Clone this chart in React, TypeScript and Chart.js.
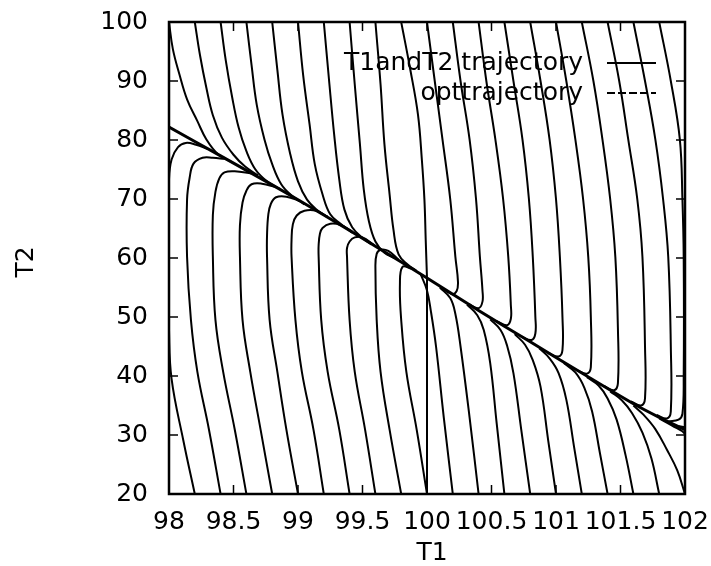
import React, { useEffect, useRef } from "react";
import { Chart, registerables } from "chart.js";

Chart.register(...registerables);

const FONT = "'DejaVu Sans', 'Liberation Sans', sans-serif";

const xTicks = [98, 98.5, 99, 99.5, 100, 100.5, 101, 101.5, 102];
const yTicks = [20, 30, 40, 50, 60, 70, 80, 90, 100];
const xTitle = "T1";
const yTitle = "T2";
const legendLabels = ["T1andT2 trajectory", "opttrajectory"];

// optimal trajectory (the slow line everything converges onto)
const optT1 = [98.0, 98.4, 98.8, 99.2, 99.6, 100.0, 100.4, 100.8, 101.2, 101.6, 101.8, 102.0];
const optT2 = [82.2, 77.3, 72.4, 67.3, 62.0, 56.6, 51.1, 45.8, 40.5, 35.3, 33.0, 30.9];

// trajectories starting on the top edge, left half
const upperLeftCurves = [
  [[98.0, 100], [98.03, 95.4], [98.08, 91.2], [98.14, 86.9], [98.22, 83.2], [98.29, 80.1], [98.38, 77.6], [98.49, 76.2]],
  [[98.2, 100], [98.24, 94.4], [98.29, 88.8], [98.34, 84.2], [98.41, 80.4], [98.5, 77.5], [98.59, 75.5], [98.69, 74.0]],
  [[98.4, 100], [98.44, 93.5], [98.49, 87.2], [98.54, 82.1], [98.6, 78.1], [98.67, 75.0], [98.76, 73.0], [98.86, 71.7]],
  [[98.6, 100], [98.64, 92.7], [98.68, 86.0], [98.74, 80.1], [98.8, 75.9], [98.87, 72.5], [98.95, 70.6], [99.05, 69.1]],
  [[98.8, 100], [98.84, 91.9], [98.88, 84.3], [98.94, 77.6], [99.0, 73.0], [99.07, 69.9], [99.15, 68.1], [99.23, 66.9]],
  [[99.0, 100], [99.04, 91.0], [99.09, 82.6], [99.13, 75.9], [99.19, 70.8], [99.25, 67.4], [99.33, 65.8], [99.42, 64.3]],
  [[99.2, 100], [99.24, 90.3], [99.28, 81.0], [99.32, 73.3], [99.36, 68.2], [99.42, 65.2], [99.5, 63.4], [99.57, 62.3]],
  [[99.4, 100], [99.44, 89.4], [99.48, 79.3], [99.51, 71.6], [99.55, 66.2], [99.6, 62.8], [99.67, 60.9], [99.75, 60.0]],
  [[99.6, 100], [99.64, 89.4], [99.67, 79.3], [99.71, 70.8], [99.74, 64.8], [99.78, 60.6], [99.85, 58.9], [99.92, 57.8]],
  [[99.8, 100], [99.87, 92.0], [99.93, 84.3], [99.96, 76.7], [99.98, 69.9], [99.99, 63.1], [100.0, 56.6]],
];

// trajectories starting on the bottom edge, left half
const lowerLeftCurves = [
  [[98.2, 20], [98.11, 29.2], [98.02, 39.5], [98.0, 47.8], [97.99, 61.4], [98.0, 73.3], [98.02, 76.7], [98.07, 78.8], [98.13, 79.5], [98.21, 79.2], [98.3, 78.5]],
  [[98.4, 20], [98.31, 30.9], [98.22, 40.7], [98.17, 49.5], [98.14, 60.2], [98.14, 69.9], [98.16, 73.6], [98.19, 76.0], [98.26, 77.0], [98.34, 77.0], [98.43, 76.8]],
  [[98.6, 20], [98.51, 30.9], [98.42, 40.7], [98.36, 49.5], [98.34, 60.2], [98.34, 67.3], [98.36, 71.2], [98.39, 73.5], [98.43, 74.5], [98.51, 74.7], [98.64, 74.3]],
  [[98.8, 20], [98.71, 30.9], [98.63, 40.7], [98.57, 49.5], [98.55, 60.2], [98.55, 65.6], [98.57, 69.4], [98.6, 71.4], [98.64, 72.5], [98.72, 72.6], [98.83, 72.0]],
  [[99.0, 20], [98.91, 30.9], [98.84, 40.7], [98.78, 49.5], [98.76, 60.2], [98.76, 63.9], [98.77, 67.4], [98.79, 69.2], [98.83, 70.3], [98.91, 70.4], [99.02, 69.6]],
  [[99.2, 20], [99.12, 30.9], [99.03, 40.7], [98.98, 49.5], [98.95, 60.2], [98.95, 63.1], [98.96, 65.7], [98.99, 67.2], [99.05, 68.0], [99.14, 68.0], [99.23, 67.0]],
  [[99.4, 20], [99.32, 30.9], [99.23, 40.7], [99.18, 49.5], [99.16, 60.2], [99.16, 62.2], [99.17, 64.1], [99.19, 65.1], [99.25, 65.8], [99.33, 65.6], [99.42, 64.5]],
  [[99.6, 20], [99.52, 30.9], [99.44, 40.7], [99.4, 49.5], [99.38, 60.2], [99.38, 61.7], [99.4, 62.8], [99.44, 63.5], [99.5, 63.5], [99.59, 62.2]],
  [[99.8, 20], [99.71, 30.9], [99.64, 40.7], [99.61, 49.5], [99.6, 58.5], [99.61, 60.7], [99.64, 61.4], [99.7, 61.2], [99.78, 59.7]],
  [[100.0, 20], [99.92, 30.9], [99.84, 40.7], [99.8, 49.5], [99.79, 55.5], [99.81, 58.5], [99.88, 58.2]],
  [[100.0, 20], [100.0, 40], [100.0, 56.6]],
];

// trajectories starting on the top edge, right half
const upperRightCurves = [
  [[100.0, 100], [100.06, 90], [100.12, 80.1], [100.18, 70], [100.22, 60.2], [100.24, 56.0], [100.23, 54.4], [100.19, 53.9], [100.1, 55.2]],
  [[100.2, 100], [100.26, 90], [100.33, 80.1], [100.38, 70], [100.41, 60.2], [100.43, 54.5], [100.43, 52.6], [100.4, 51.5], [100.32, 52.2]],
  [[100.4, 100], [100.46, 90], [100.53, 80.1], [100.59, 70], [100.63, 60.2], [100.65, 52], [100.65, 49.7], [100.62, 48.6], [100.54, 49.3]],
  [[100.6, 100], [100.67, 90], [100.74, 80.1], [100.79, 70], [100.82, 60.2], [100.84, 50], [100.84, 47.2], [100.81, 46.1], [100.73, 46.7]],
  [[100.8, 100], [100.88, 90], [100.95, 80.1], [101.0, 70], [101.03, 60.2], [101.05, 50], [101.05, 44.4], [101.02, 43.3], [100.94, 43.9]],
  [[101.0, 100], [101.08, 90], [101.15, 80.1], [101.21, 70], [101.25, 60.2], [101.27, 50], [101.27, 41.5], [101.24, 40.4], [101.16, 41.0]],
  [[101.2, 100], [101.29, 90], [101.36, 80.1], [101.42, 70], [101.46, 60.2], [101.48, 48], [101.48, 38.8], [101.45, 37.6], [101.37, 38.3]],
  [[101.4, 100], [101.49, 90], [101.56, 80.1], [101.63, 70], [101.67, 60.2], [101.69, 45], [101.69, 36.2], [101.66, 35.0], [101.58, 35.7]],
  [[101.6, 100], [101.69, 90], [101.77, 80.1], [101.83, 70], [101.87, 60.2], [101.89, 45], [101.89, 34.0], [101.86, 32.8], [101.78, 33.4]],
  [[101.8, 100], [101.89, 90], [101.96, 80.1], [101.98, 70], [101.99, 60], [101.99, 40], [101.98, 33.6], [101.95, 32.6], [101.87, 32.3]],
  [[102.0, 100], [102.09, 90], [102.16, 80.1], [102.2, 60], [102.2, 40], [102.15, 33], [102.05, 31.3], [101.95, 31.5]],
];

// trajectories starting on the bottom edge, right half
const lowerRightCurves = [
  [[100.2, 20], [100.13, 33], [100.07, 45], [100.03, 51], [100.0, 54.5], [99.95, 57.3]],
  [[100.4, 20], [100.33, 33], [100.26, 45.0], [100.22, 50.5], [100.18, 53.2], [100.1, 55.0]],
  [[100.6, 20], [100.54, 32], [100.49, 42.2], [100.44, 47.8], [100.39, 50.3], [100.31, 52.1]],
  [[100.8, 20], [100.73, 31], [100.67, 40.5], [100.62, 45.2], [100.57, 47.8], [100.49, 49.6]],
  [[101.0, 20], [100.94, 29], [100.88, 38.2], [100.82, 42.7], [100.76, 45.3], [100.68, 47.1]],
  [[101.2, 20], [101.14, 28], [101.08, 36], [101.02, 40.5], [100.95, 43.0], [100.87, 44.7]],
  [[101.4, 20], [101.34, 27], [101.28, 34], [101.22, 38], [101.15, 40.6], [101.06, 42.2]],
  [[101.6, 20], [101.54, 26.5], [101.47, 32.6], [101.4, 36.2], [101.33, 38.4], [101.24, 39.8]],
  [[101.8, 20], [101.74, 26], [101.67, 30.4], [101.59, 33.7], [101.51, 35.9], [101.42, 37.4]],
  [[102.0, 20], [101.94, 24], [101.86, 27.5], [101.77, 31.0], [101.68, 33.4], [101.6, 35.0]],
  [[102.2, 20], [102.1, 26], [102.0, 30.2], [101.9, 31.6], [101.8, 32.8]],
];

const decorPlugin = {
  id: "gnuplotDecor",
  afterDatasetsDraw(chart: any) {
    const { ctx, chartArea: a, scales } = chart;
    const xs = scales.x;
    const ys = scales.y;
    ctx.save();
    ctx.strokeStyle = "#000";
    ctx.fillStyle = "#000";
    ctx.lineWidth = 1.5;
    ctx.beginPath();
    xTicks.forEach((v) => {
      const p = xs.getPixelForValue(v);
      ctx.moveTo(p, a.bottom);
      ctx.lineTo(p, a.bottom - 9);
      ctx.moveTo(p, a.top);
      ctx.lineTo(p, a.top + 9);
    });
    yTicks.forEach((v) => {
      const p = ys.getPixelForValue(v);
      ctx.moveTo(a.left, p);
      ctx.lineTo(a.left + 9, p);
      ctx.moveTo(a.right, p);
      ctx.lineTo(a.right - 9, p);
    });
    ctx.stroke();
    ctx.lineWidth = 2.5;
    ctx.strokeRect(a.left, a.top, a.right - a.left, a.bottom - a.top);

    // legend
    ctx.font = `25px ${FONT}`;
    ctx.textAlign = "right";
    ctx.textBaseline = "middle";
    const rows = [a.top + 41, a.top + 71];
    legendLabels.forEach((t, i) => {
      ctx.fillText(t, a.right - 102, rows[i]);
      ctx.setLineDash(i === 0 ? [] : [8, 3]);
      ctx.lineWidth = 2;
      ctx.beginPath();
      ctx.moveTo(a.right - 78, rows[i]);
      ctx.lineTo(a.right - 29, rows[i]);
      ctx.stroke();
    });
    ctx.setLineDash([]);

    // axis titles
    ctx.font = `25px ${FONT}`;
    ctx.textAlign = "center";
    ctx.fillText(xTitle, (a.left + a.right) / 2 + 5, 553);
    ctx.translate(26, (a.top + a.bottom) / 2 + 4);
    ctx.rotate(-Math.PI / 2);
    ctx.fillText(yTitle, 0, 0);
    ctx.restore();
  },
};

export default function App() {
  const ref = useRef<HTMLCanvasElement | null>(null);

  useEffect(() => {
    if (!ref.current) return;
    const curves = [...upperLeftCurves, ...lowerLeftCurves, ...upperRightCurves, ...lowerRightCurves];
    const datasets: any[] = curves.map((c) => ({
      label: legendLabels[0],
      data: c.map(([x, y]) => ({ x, y })),
      showLine: true,
      borderColor: "#000",
      borderWidth: 2,
      pointRadius: 0,
      tension: 0.4,
      fill: false,
    }));
    datasets.push({
      label: legendLabels[1],
      data: optT1.map((x, i) => ({ x, y: optT2[i] })),
      showLine: true,
      borderColor: "#000",
      borderWidth: 3,
      pointRadius: 0,
      tension: 0.3,
      fill: false,
    });

    const chart = new Chart(ref.current, {
      type: "scatter",
      data: { datasets },
      options: {
        animation: false,
        responsive: false,
        devicePixelRatio: 1,
        layout: { padding: { top: 22, right: 26, left: 0, bottom: 0 } },
        plugins: { legend: { display: false }, tooltip: { enabled: false } },
        elements: { line: { capBezierPoints: false } },
        scales: {
          x: {
            type: "linear",
            min: 98,
            max: 102,
            afterBuildTicks: (s: any) => {
              s.ticks = xTicks.map((v) => ({ value: v }));
            },
            afterFit: (s: any) => {
              s.height = 72;
              s.paddingLeft = 0;
              s.paddingRight = 0;
            },
            grid: { display: false, drawTicks: false },
            border: { display: false },
            ticks: {
              autoSkip: false,
              maxRotation: 0,
              padding: 13,
              color: "#000",
              font: { family: FONT, size: 25 },
              callback: (v: any) => String(v),
            },
          },
          y: {
            type: "linear",
            min: 20,
            max: 100,
            afterBuildTicks: (s: any) => {
              s.ticks = yTicks.map((v) => ({ value: v }));
            },
            afterFit: (s: any) => {
              s.width = 169;
              s.paddingTop = 0;
              s.paddingBottom = 0;
            },
            grid: { display: false, drawTicks: false },
            border: { display: false },
            ticks: {
              autoSkip: false,
              padding: 21,
              color: "#000",
              font: { family: FONT, size: 25 },
              callback: (v: any) => String(v),
            },
          },
        },
      },
      plugins: [decorPlugin],
    });
    return () => chart.destroy();
  }, []);

  return (
    <div style={{ position: "absolute", left: 0, top: 0, width: 711, height: 566, background: "#fff" }}>
      <canvas ref={ref} width={711} height={566} />
    </div>
  );
}
